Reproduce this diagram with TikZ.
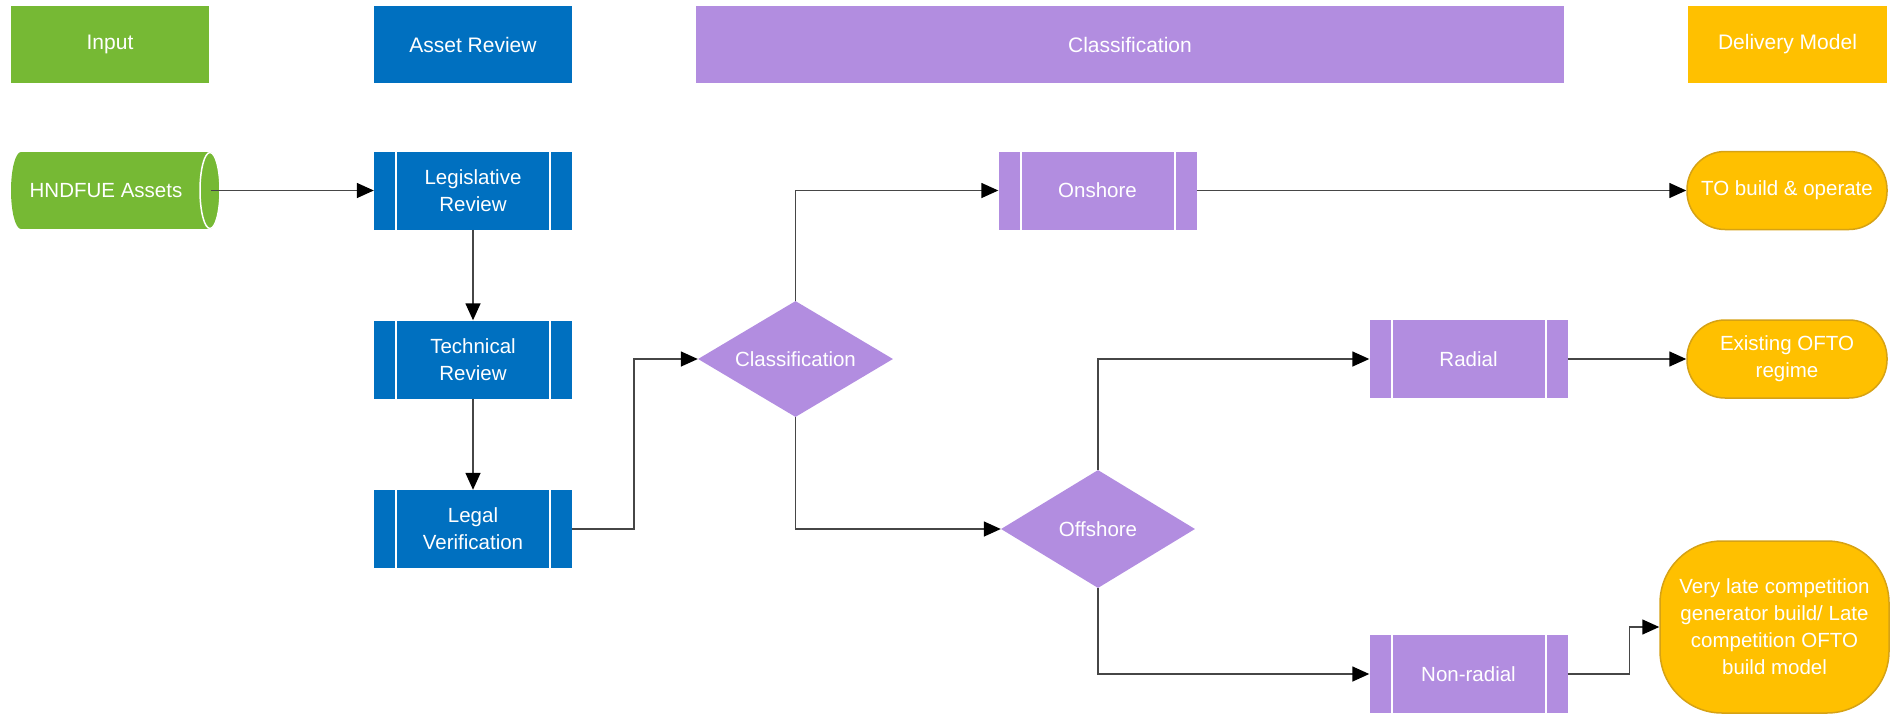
\documentclass[tikz,border=0pt]{standalone}
\usepackage{fontspec}
\setmainfont{Liberation Sans}
\usetikzlibrary{shapes.geometric,arrows.meta,calc}
\definecolor{cgreen}{RGB}{118,185,52}
\definecolor{cblue}{RGB}{0,112,192}
\definecolor{cpurple}{RGB}{178,141,224}
\definecolor{cgold}{RGB}{255,192,0}
\definecolor{cgoldline}{RGB}{214,162,20}
\definecolor{cline}{RGB}{70,70,70}
\newcommand{\nodefnt}{\fontsize{20.5}{27}\selectfont}
\newcommand{\hdrfnt}{\fontsize{21}{25}\selectfont}
\tikzset{
  hdr/.style={rectangle, fill=#1, minimum width=198pt, minimum height=77pt, inner sep=0pt, text=white, font=\hdrfnt},
  procbox/.style={rectangle, fill=#1, minimum width=198pt, minimum height=78pt, inner sep=0pt, text=white, align=center, font=\nodefnt,
    path picture={
      \draw[white, line width=2pt] ([xshift=22pt]path picture bounding box.north west) -- ([xshift=22pt]path picture bounding box.south west);
      \draw[white, line width=2pt] ([xshift=-22pt]path picture bounding box.north east) -- ([xshift=-22pt]path picture bounding box.south east);
    }},
  decide/.style={diamond, aspect=1.7, fill=cpurple, minimum width=195pt, minimum height=116pt, inner sep=0pt, text=white, font=\nodefnt},
  term/.style={rectangle, rounded corners=38pt, fill=cgold, draw=cgoldline, line width=1.5pt, minimum width=200pt, minimum height=78pt, inner sep=0pt, text=white, align=center, font=\nodefnt},
  conn/.style={draw=cline, line width=1.5pt, -{Triangle[length=17pt,width=15pt,fill=black,color=black]}}
}
\begin{document}
\begin{tikzpicture}[x=1pt,y=-1pt]
\path[use as bounding box] (0,0) rectangle (1892,715);
% headers
\node[hdr=cgreen] (hin) at (110,44.5) {Input};
\node[hdr=cblue] (has) at (473,44.5) {Asset Review};
\node[hdr=cpurple, minimum width=868pt] (hcl) at (1130,44.5) {Classification};
\node[hdr=cgold, minimum width=199pt] (hdm) at (1787.5,44.5) {Delivery Model};
% cylinder
\fill[cgreen] (21,190.5) ellipse [x radius=10pt, y radius=38.5pt];
\fill[cgreen] (21,152) rectangle (210,229);
\fill[cgreen] (210,190.5) ellipse [x radius=10pt, y radius=38.5pt];
\draw[white, line width=1.5pt] (210,190.5) ellipse [x radius=10pt, y radius=38pt];
\node[text=white, font=\nodefnt, inner sep=0pt] (hnd) at (106,190.5) {HNDFUE Assets};
\coordinate (hndout) at (211,190.5);
% asset review
\node[procbox=cblue] (leg) at (473,190.5) {Legislative\\Review};
\node[procbox=cblue] (tech) at (473,359.5) {Technical\\Review};
\node[procbox=cblue] (legal) at (473,529) {Legal\\Verification};
% classification
\node[decide] (cls) at (795.5,359) {Classification};
\node[procbox=cpurple] (on) at (1097.5,190.5) {Onshore};
\node[decide, minimum width=194pt, minimum height=118pt] (off) at (1098,529) {Offshore};
\node[procbox=cpurple] (rad) at (1468.5,359) {Radial};
\node[procbox=cpurple] (nonrad) at (1468.5,674) {Non-radial};
% delivery
\node[term] (to) at (1787,190.5) {TO build \& operate};
\node[term] (exist) at (1787,359) {Existing OFTO\\regime};
\node[term, rounded corners=62pt, minimum width=229pt, minimum height=172pt] (vlate) at (1774.5,627) {Very late competition\\generator build/ Late\\competition OFTO\\build model};
% connectors
\draw[conn] (hndout) -- (leg.west);
\draw[conn] (leg) -- (tech);
\draw[conn] (tech) -- (legal);
\draw[conn] (legal.east) -- ++(62pt,0pt) |- (cls.west);
\draw[conn] (cls.north) |- (on.west);
\draw[conn] (cls.south) |- (off.west);
\draw[conn] (on.east) -- (to.west);
\draw[conn] (off.north) |- (rad.west);
\draw[conn] (off.south) |- (nonrad.west);
\draw[conn] (rad.east) -- (exist.west);
\draw[conn] (nonrad.east) -- ++(62pt,0pt) |- (vlate.west);
\end{tikzpicture}
\end{document}
